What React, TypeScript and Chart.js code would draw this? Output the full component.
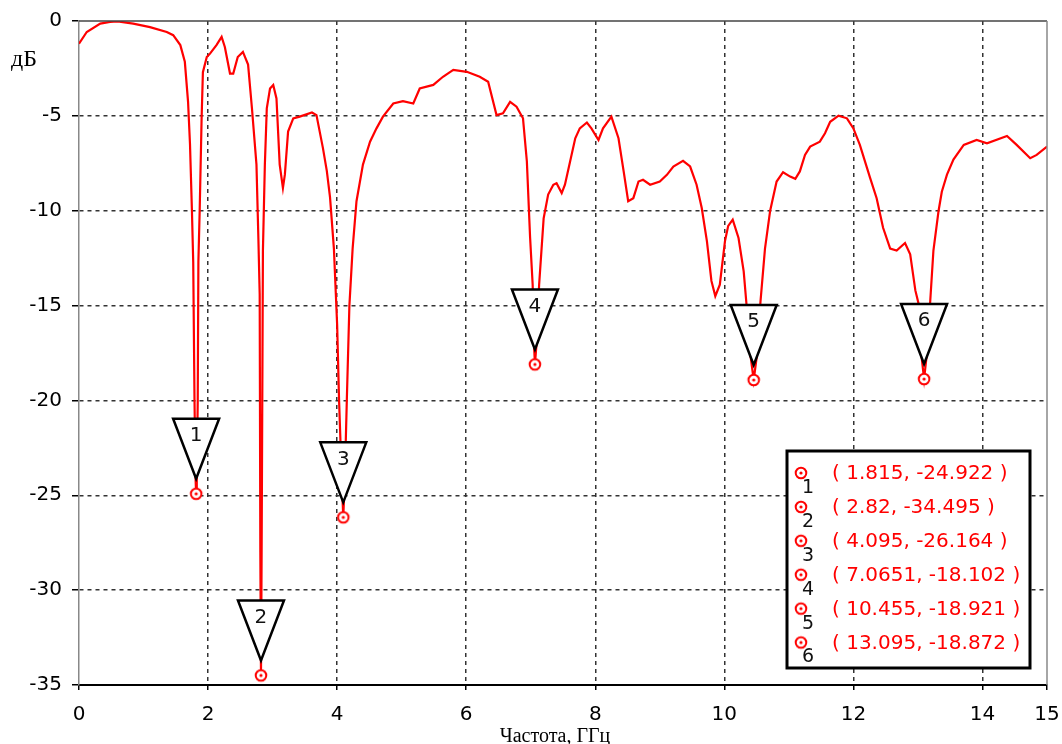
import React, { useEffect, useRef } from 'react';
import Chart from 'chart.js/auto';

// Frequency (GHz) and |S11| (dB)
const freq = [
  0, 0.12, 0.33, 0.48, 0.6, 0.84, 1.1, 1.36, 1.46, 1.57, 1.64, 1.69, 1.72, 1.75, 1.77,
  1.79, 1.805, 1.815, 1.825, 1.84, 1.85, 1.87, 1.9, 1.92, 1.98, 2.03, 2.13, 2.21, 2.26,
  2.34, 2.39, 2.46, 2.54, 2.62, 2.68, 2.75, 2.78, 2.8, 2.81, 2.82, 2.83, 2.85, 2.88, 2.91,
  2.96, 3.01, 3.06, 3.11, 3.16, 3.19, 3.24, 3.32, 3.42, 3.61, 3.68, 3.78, 3.84, 3.89, 3.95,
  4.0, 4.03, 4.07, 4.095, 4.12, 4.15, 4.19, 4.24, 4.3, 4.4, 4.51, 4.61, 4.71, 4.87, 5.02,
  5.18, 5.28, 5.49, 5.64, 5.8, 6.01, 6.21, 6.34, 6.47, 6.57, 6.68, 6.78, 6.88, 6.94, 6.99,
  7.03, 7.05, 7.0651, 7.09, 7.13, 7.2, 7.27, 7.35, 7.4, 7.48, 7.53, 7.61, 7.69, 7.76, 7.87,
  7.94, 8.05, 8.12, 8.25, 8.36, 8.44, 8.51, 8.59, 8.67, 8.74, 8.85, 9.0, 9.11, 9.21, 9.36,
  9.47, 9.57, 9.65, 9.73, 9.8, 9.86, 9.93, 10.01, 10.06, 10.13, 10.22, 10.3, 10.34, 10.4,
  10.455, 10.51, 10.56, 10.63, 10.71, 10.81, 10.91, 11.02, 11.1, 11.17, 11.25, 11.33, 11.48,
  11.56, 11.64, 11.77, 11.9, 12.0, 12.1, 12.26, 12.36, 12.46, 12.57, 12.67, 12.8, 12.88,
  12.96, 13.01, 13.05, 13.095, 13.14, 13.19, 13.24, 13.32, 13.37, 13.45, 13.55, 13.71, 13.91,
  14.07, 14.38, 14.53, 14.74, 14.84, 15.0,
];
const s11 = [
  -1.2, -0.58, -0.14, -0.05, -0.02, -0.14, -0.32, -0.58, -0.75, -1.27, -2.15, -4.26, -6.5, -10.0, -12.7,
  -20, -24, -24.922, -24, -20, -12.7, -10.0, -5.13, -2.7, -1.9, -1.72, -1.27, -0.84, -1.37,
  -2.77, -2.77, -1.9, -1.63, -2.3, -4.6, -7.57, -11.5, -14.4, -28, -34.495, -28, -12.1, -7.57, -4.6,
  -3.56, -3.37, -4.08, -7.57, -8.8, -8.1, -5.83, -5.13, -5.04, -4.82, -4.96, -6.7, -7.9, -9.3, -12,
  -16, -20, -24, -26.164, -24, -20, -15, -12, -9.5, -7.57, -6.36, -5.66, -5.04, -4.35, -4.22,
  -4.35, -3.56, -3.37, -2.94, -2.58, -2.68, -2.94, -3.2, -4.96, -4.87, -4.26, -4.52, -5.13, -7.4, -11.4,
  -13.9, -17, -18.102, -17, -13.9, -10.4, -9.15, -8.63, -8.55, -9.07, -8.63, -7.4, -6.18, -5.66, -5.35,
  -5.66, -6.27, -5.66, -5.04, -6.18, -7.93, -9.5, -9.34, -8.46, -8.37, -8.63, -8.46, -8.11, -7.67, -7.37,
  -7.67, -8.63, -9.86, -11.6, -13.7, -14.5, -13.9, -11.6, -10.8, -10.47, -11.44, -13.2, -14.8, -17.5,
  -18.921, -17.5, -14.8, -12.0, -10.0, -8.46, -7.97, -8.2, -8.32, -7.93, -7.06, -6.62, -6.36,
  -5.92, -5.31, -4.99, -5.13, -5.66, -6.53, -8.28, -9.34, -10.9, -12.0, -12.1, -11.7, -12.3,
  -14.2, -14.9, -17.5, -18.872, -17.5, -14.8, -12.1, -10.0, -9.0, -8.1, -7.3, -6.53, -6.27,
  -6.45, -6.06, -6.53, -7.23, -7.06, -6.62,
];

// Markers
const markerFreq = [1.815, 2.82, 4.095, 7.0651, 10.455, 13.095];
const markerDb = [-24.922, -34.495, -26.164, -18.102, -18.921, -18.872];
const markerIds = ['1', '2', '3', '4', '5', '6'];

// Axis settings / labels
const xMin = 0;
const xMax = 15;
const xStep = 2;
const yMin = -35;
const yMax = 0;
const yStep = 5;
const xTitle = 'Частота, ГГц';
const yTitle = 'дБ';

const RED = '#ff0000';

function makeRing(): HTMLCanvasElement {
  const c = document.createElement('canvas');
  c.width = 16;
  c.height = 16;
  const g = c.getContext('2d')!;
  g.fillStyle = '#fff';
  g.beginPath();
  g.arc(8, 8, 5.3, 0, Math.PI * 2);
  g.fill();
  g.strokeStyle = RED;
  g.lineWidth = 2;
  g.stroke();
  g.fillStyle = RED;
  g.beginPath();
  g.arc(8, 8, 1.6, 0, Math.PI * 2);
  g.fill();
  return c;
}

export default function App() {
  const ref = useRef<HTMLCanvasElement | null>(null);

  useEffect(() => {
    if (!ref.current) return;
    const ring = makeRing();

    const decor = {
      id: 'decor',
      afterDatasetsDraw(chart: any) {
        const { ctx, scales } = chart;
        const x = scales.x;
        const y = scales.y;
        markerFreq.forEach((f, i) => {
          const px = x.getPixelForValue(f);
          const py = y.getPixelForValue(markerDb[i]);
          const top = py - 75;
          const apex = py - 15;
          const hw = 23;
          ctx.save();
          ctx.beginPath();
          ctx.moveTo(px - hw, top);
          ctx.lineTo(px + hw, top);
          ctx.lineTo(px, apex);
          ctx.closePath();
          ctx.fillStyle = '#fff';
          ctx.fill();
          ctx.lineWidth = 2.5;
          ctx.strokeStyle = '#000';
          ctx.stroke();
          ctx.fillStyle = '#111';
          ctx.font = '20px "DejaVu Sans"';
          ctx.textAlign = 'center';
          ctx.textBaseline = 'middle';
          ctx.fillText(markerIds[i], px, top + 17);
          ctx.drawImage(ring, px - 8, py - 8);
          ctx.restore();
        });
      },
      afterDraw(chart: any) {
        const { ctx, chartArea } = chart;
        const { left, right, top, bottom } = chartArea;
        ctx.save();
        // frame (top & right)
        ctx.strokeStyle = '#444';
        ctx.lineWidth = 1.5;
        ctx.beginPath();
        ctx.moveTo(left, top);
        ctx.lineTo(right, top);
        ctx.stroke();
        ctx.strokeStyle = '#888';
        ctx.beginPath();
        ctx.moveTo(right, top);
        ctx.lineTo(right, bottom);
        ctx.stroke();

        // axis titles
        ctx.fillStyle = '#000';
        ctx.font = '24px "Liberation Serif"';
        ctx.textAlign = 'left';
        ctx.textBaseline = 'alphabetic';
        ctx.fillText(yTitle, 11, 66);
        ctx.font = '20px "Liberation Serif"';
        ctx.textAlign = 'center';
        ctx.fillText(xTitle, 555, 742);

        // marker table
        const bx = right - 260;
        const by = bottom - 234;
        const bw = 243;
        const bh = 217;
        ctx.fillStyle = '#fff';
        ctx.fillRect(bx, by, bw, bh);
        ctx.strokeStyle = '#000';
        ctx.lineWidth = 3;
        ctx.strokeRect(bx, by, bw, bh);
        const rowH = 33.9;
        markerFreq.forEach((f, i) => {
          const cy = by + 22 + i * rowH;
          ctx.drawImage(ring, bx + 14 - 8, cy - 8);
          ctx.fillStyle = '#111';
          ctx.font = '19px "DejaVu Sans"';
          ctx.textAlign = 'center';
          ctx.textBaseline = 'middle';
          ctx.fillText(markerIds[i], bx + 21, cy + 15);
          ctx.fillStyle = RED;
          ctx.textAlign = 'left';
          ctx.font = '20px "DejaVu Sans"';
          ctx.fillText(`( ${f}, ${markerDb[i]} )`, bx + 45, cy + 1);
        });
        ctx.restore();
      },
    };

    const chart = new Chart(ref.current, {
      type: 'line',
      data: {
        datasets: [
          {
            data: freq.map((f, i) => ({ x: f, y: s11[i] })),
            borderColor: RED,
            borderWidth: 2.2,
            pointRadius: 0,
            tension: 0,
            fill: false,
          },
        ],
      },
      options: {
        responsive: false,
        animation: false,
        devicePixelRatio: 1,
        layout: { padding: { top: 21, right: 15, left: 0, bottom: 0 } },
        plugins: { legend: { display: false }, tooltip: { enabled: false } },
        scales: {
          x: {
            type: 'linear',
            min: xMin,
            max: xMax,
            ticks: {
              stepSize: xStep,
              autoSkip: false,
              maxRotation: 0,
              color: '#000',
              padding: 13,
              font: { family: 'DejaVu Sans', size: 20 },
            },
            grid: {
              color: (c: any) =>
                c.tick && (c.tick.value === xMin || c.tick.value === xMax) ? 'rgba(0,0,0,0)' : '#333',
              lineWidth: 1.5,
              tickColor: '#000',
              tickLength: 5,
              tickWidth: 1.5,
            },
            border: { color: '#000', width: 2, dash: [4, 4] },
            afterFit: (s: any) => {
              s.height = 59;
              s.paddingLeft = 0;
              s.paddingRight = 0;
            },
          },
          y: {
            type: 'linear',
            min: yMin,
            max: yMax,
            ticks: {
              stepSize: yStep,
              color: '#000',
              padding: 10,
              font: { family: 'DejaVu Sans', size: 20 },
            },
            grid: {
              color: (c: any) =>
                c.tick && (c.tick.value === yMin || c.tick.value === yMax) ? 'rgba(0,0,0,0)' : '#333',
              lineWidth: 1.5,
              tickColor: '#000',
              tickLength: 7,
              tickWidth: 1.5,
            },
            border: { color: '#888', width: 1.5, dash: [4, 4] },
            afterFit: (s: any) => {
              s.width = 79;
              s.paddingTop = 0;
              s.paddingBottom = 0;
            },
          },
        },
      },
      plugins: [decor],
    } as any);

    return () => chart.destroy();
  }, []);

  return (
    <div style={{ position: 'fixed', left: 0, top: 0, width: 1062, height: 744, background: '#fff' }}>
      <canvas ref={ref} width={1062} height={744} style={{ display: 'block' }} />
    </div>
  );
}
